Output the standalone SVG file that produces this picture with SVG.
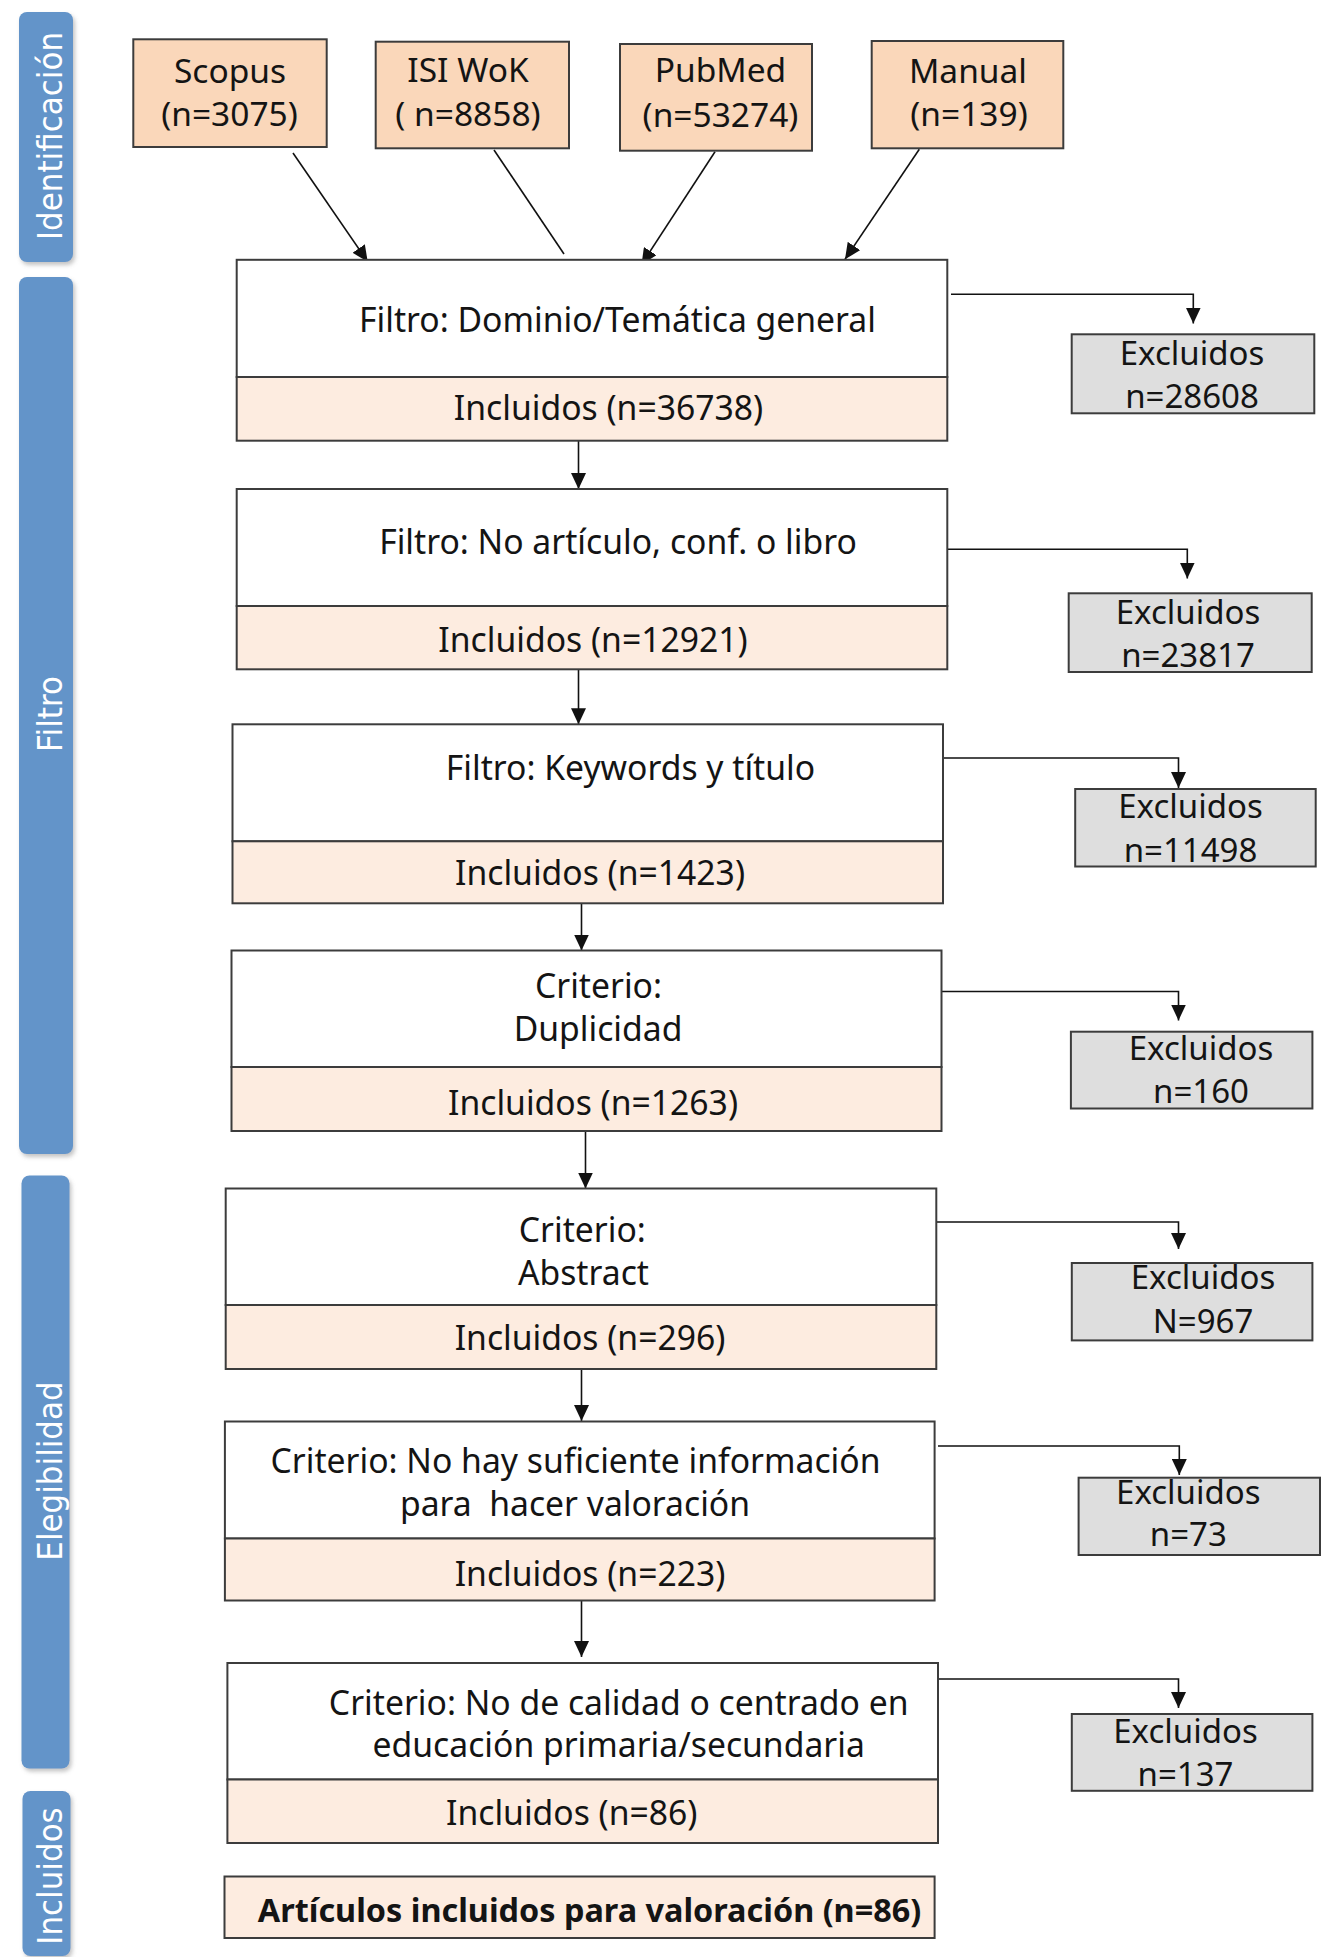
<svg xmlns="http://www.w3.org/2000/svg" width="1330" height="1957" viewBox="0 0 1330 1957">
<style>
  .band { fill: #6394C9; filter: url(#shadow); }
  .bandtext { font-family: "DejaVu Sans", Verdana, sans-serif; font-size: 31px; fill: #ffffff; text-anchor: middle; }
  .src { fill: #FAD7BA; stroke: #3c3c3c; stroke-width: 2; }
  .top { fill: #ffffff; stroke: #3c3c3c; stroke-width: 2; }
  .inc { fill: #FDECE0; stroke: #3c3c3c; stroke-width: 2; }
  .exc { fill: #DEDEDE; stroke: #3c3c3c; stroke-width: 2; }
  .t { font-family: "Noto Sans", "Open Sans", sans-serif; font-size: 33.7px; fill: #141414; text-anchor: middle; }
  .s { font-size: 33.5px; }
  .e { font-size: 33px; }
  .b { font-weight: bold; font-size: 32.4px; }
  .conn { fill: none; stroke: #111111; stroke-width: 1.6; }
</style>
<defs>
  <filter id="shadow" x="-30%" y="-5%" width="160%" height="110%">
    <feDropShadow dx="2" dy="3" stdDeviation="2" flood-color="#7a7a7a" flood-opacity="0.45"/>
  </filter>
  <marker id="arr" markerUnits="userSpaceOnUse" markerWidth="16" markerHeight="15" refX="16" refY="7.5" orient="auto">
    <path d="M0,0 L16,7.5 L0,15 z" fill="#111111"/>
  </marker>
</defs>
<rect width="1330" height="1957" fill="#ffffff"/>

<g id="bands">
  <g id="band-identificacion">
    <rect class="band" x="19" y="12" width="54" height="250" rx="8"/>
    <text class="bandtext" transform="translate(61.5,136) rotate(-90) scale(1,1.1)">Identificación</text>
  </g>
  <g id="band-filtro">
    <rect class="band" x="19" y="277" width="54" height="877" rx="8"/>
    <text class="bandtext" transform="translate(61.5,714) rotate(-90) scale(1,1.1)">Filtro</text>
  </g>
  <g id="band-elegibilidad">
    <rect class="band" x="21.5" y="1175.5" width="48" height="593" rx="8"/>
    <text class="bandtext" transform="translate(61.5,1471) rotate(-90) scale(1,1.1)">Elegibilidad</text>
  </g>
  <g id="band-incluidos">
    <rect class="band" x="22.5" y="1791" width="48" height="165" rx="8"/>
    <text class="bandtext" transform="translate(61.5,1876) rotate(-90) scale(1,1.1)">Incluidos</text>
  </g>
</g>

<g id="connectors">
  <path class="conn" d="M293,153 L367.7,261.7" marker-end="url(#arr)"/>
  <path class="conn" d="M494,150 L564,254"/>
  <path class="conn" d="M715,151.7 L641.5,264.5" marker-end="url(#arr)"/>
  <path class="conn" d="M919.3,149.3 L845,259.3" marker-end="url(#arr)"/>

  <path class="conn" d="M578.5,440.7 V489" marker-end="url(#arr)"/>
  <path class="conn" d="M578.5,669.3 V724.3" marker-end="url(#arr)"/>
  <path class="conn" d="M581.5,903.3 V950.5" marker-end="url(#arr)"/>
  <path class="conn" d="M585.5,1131 V1188.5" marker-end="url(#arr)"/>
  <path class="conn" d="M581.5,1369 V1421" marker-end="url(#arr)"/>
  <path class="conn" d="M581.5,1600.5 V1657" marker-end="url(#arr)"/>

  <path class="conn" d="M951,294.3 H1193.3 V323.5" marker-end="url(#arr)"/>
  <path class="conn" d="M945,549.3 H1187.3 V578.5" marker-end="url(#arr)"/>
  <path class="conn" d="M939,758 H1178.5 V788" marker-end="url(#arr)"/>
  <path class="conn" d="M935.5,991.5 H1178.5 V1020.5" marker-end="url(#arr)"/>
  <path class="conn" d="M936.3,1222 H1178.5 V1249" marker-end="url(#arr)"/>
  <path class="conn" d="M938,1446 H1179.3 V1475" marker-end="url(#arr)"/>
  <path class="conn" d="M936.3,1679 H1178.5 V1708" marker-end="url(#arr)"/>
</g>

<g id="src-scopus">
  <rect class="src" x="133.3" y="39.3" width="193.4" height="107.7"/>
  <text class="t s" x="230" y="82.7">Scopus</text>
  <text class="t s" x="229.5" y="125.5">(n=3075)</text>
</g>
<g id="src-isi">
  <rect class="src" x="375.7" y="41.7" width="193.3" height="106.6"/>
  <text class="t s" x="468" y="81.7">ISI WoK</text>
  <text class="t s" x="468" y="126">( n=8858)</text>
</g>
<g id="src-pubmed">
  <rect class="src" x="620" y="44" width="192" height="106.7"/>
  <text class="t s" x="720.5" y="82">PubMed</text>
  <text class="t s" x="720.5" y="126.5">(n=53274)</text>
</g>
<g id="src-manual">
  <rect class="src" x="871.7" y="41" width="191.6" height="107.3"/>
  <text class="t s" x="968" y="82.7">Manual</text>
  <text class="t s" x="969" y="126">(n=139)</text>
</g>

<g id="step1">
  <rect class="top" x="236.7" y="259.8" width="710.6" height="117.2"/>
  <rect class="inc" x="236.7" y="377" width="710.6" height="63.7"/>
  <text class="t" x="617.5" y="331.7">Filtro: Dominio/Temática general</text>
  <text class="t" x="608.5" y="420">Incluidos (n=36738)</text>
</g>
<g id="step2">
  <rect class="top" x="236.7" y="489" width="710.6" height="117"/>
  <rect class="inc" x="236.7" y="606" width="710.6" height="63.3"/>
  <text class="t" x="618" y="553.6">Filtro: No artículo, conf. o libro</text>
  <text class="t" x="593" y="651.5">Incluidos (n=12921)</text>
</g>
<g id="step3">
  <rect class="top" x="232.5" y="724.3" width="710.5" height="117"/>
  <rect class="inc" x="232.5" y="841.3" width="710.5" height="62"/>
  <text class="t" x="630.5" y="780">Filtro: Keywords y título</text>
  <text class="t" x="600" y="885">Incluidos (n=1423)</text>
</g>
<g id="step4">
  <rect class="top" x="231.5" y="950.5" width="710" height="116.5"/>
  <rect class="inc" x="231.5" y="1067" width="710" height="64"/>
  <text class="t" x="598.5" y="998">Criterio:</text>
  <text class="t" x="598" y="1040.6">Duplicidad</text>
  <text class="t" x="593" y="1115">Incluidos (n=1263)</text>
</g>
<g id="step5">
  <rect class="top" x="225.7" y="1188.5" width="710.6" height="116.5"/>
  <rect class="inc" x="225.7" y="1305" width="710.6" height="64"/>
  <text class="t" x="582.3" y="1241.6">Criterio:</text>
  <text class="t" x="583.5" y="1284.8">Abstract</text>
  <text class="t" x="590" y="1349.7">Incluidos (n=296)</text>
</g>
<g id="step6">
  <rect class="top" x="224.9" y="1421.5" width="709.7" height="117"/>
  <rect class="inc" x="224.9" y="1538.5" width="709.7" height="62"/>
  <text class="t" x="575.5" y="1473">Criterio: No hay suficiente información</text>
  <text class="t" x="575" y="1516.4" xml:space="preserve" style="white-space:pre">para  hacer valoración</text>
  <text class="t" x="590" y="1586.4">Incluidos (n=223)</text>
</g>
<g id="step7">
  <rect class="top" x="227.4" y="1663" width="710.6" height="116.5"/>
  <rect class="inc" x="227.4" y="1779.5" width="710.6" height="63.5"/>
  <text class="t" x="618.7" y="1715">Criterio: No de calidad o centrado en</text>
  <text class="t" x="618.7" y="1757">educación primaria/secundaria</text>
  <text class="t" x="571.7" y="1825">Incluidos (n=86)</text>
</g>
<g id="final">
  <rect class="inc" x="224.5" y="1876.5" width="710.1" height="61.5"/>
  <text class="t b" x="589.5" y="1922">Artículos incluidos para valoración (n=86)</text>
</g>

<g id="exc1">
  <rect class="exc" x="1071.7" y="334.3" width="242.6" height="79"/>
  <text class="t e" x="1192" y="365">Excluidos</text>
  <text class="t e" x="1192" y="408">n=28608</text>
</g>
<g id="exc2">
  <rect class="exc" x="1068.7" y="593.3" width="243" height="78.7"/>
  <text class="t e" x="1188" y="623.5">Excluidos</text>
  <text class="t e" x="1188" y="667">n=23817</text>
</g>
<g id="exc3">
  <rect class="exc" x="1075.2" y="789" width="240.5" height="77.5"/>
  <text class="t e" x="1190.5" y="818">Excluidos</text>
  <text class="t e" x="1190.5" y="861.5">n=11498</text>
</g>
<g id="exc4">
  <rect class="exc" x="1070.9" y="1031.7" width="241.5" height="76.8"/>
  <text class="t e" x="1201" y="1059.5">Excluidos</text>
  <text class="t e" x="1201" y="1102.7">n=160</text>
</g>
<g id="exc5">
  <rect class="exc" x="1071.8" y="1263" width="240.6" height="77.4"/>
  <text class="t e" x="1203" y="1289">Excluidos</text>
  <text class="t e" x="1203" y="1332.7">N=967</text>
</g>
<g id="exc6">
  <rect class="exc" x="1078.6" y="1477.7" width="241.4" height="77.3"/>
  <text class="t e" x="1188.3" y="1504">Excluidos</text>
  <text class="t e" x="1188.3" y="1546">n=73</text>
</g>
<g id="exc7">
  <rect class="exc" x="1071.8" y="1714" width="240.6" height="76.8"/>
  <text class="t e" x="1185.5" y="1743">Excluidos</text>
  <text class="t e" x="1185.5" y="1785.6">n=137</text>
</g>
</svg>
